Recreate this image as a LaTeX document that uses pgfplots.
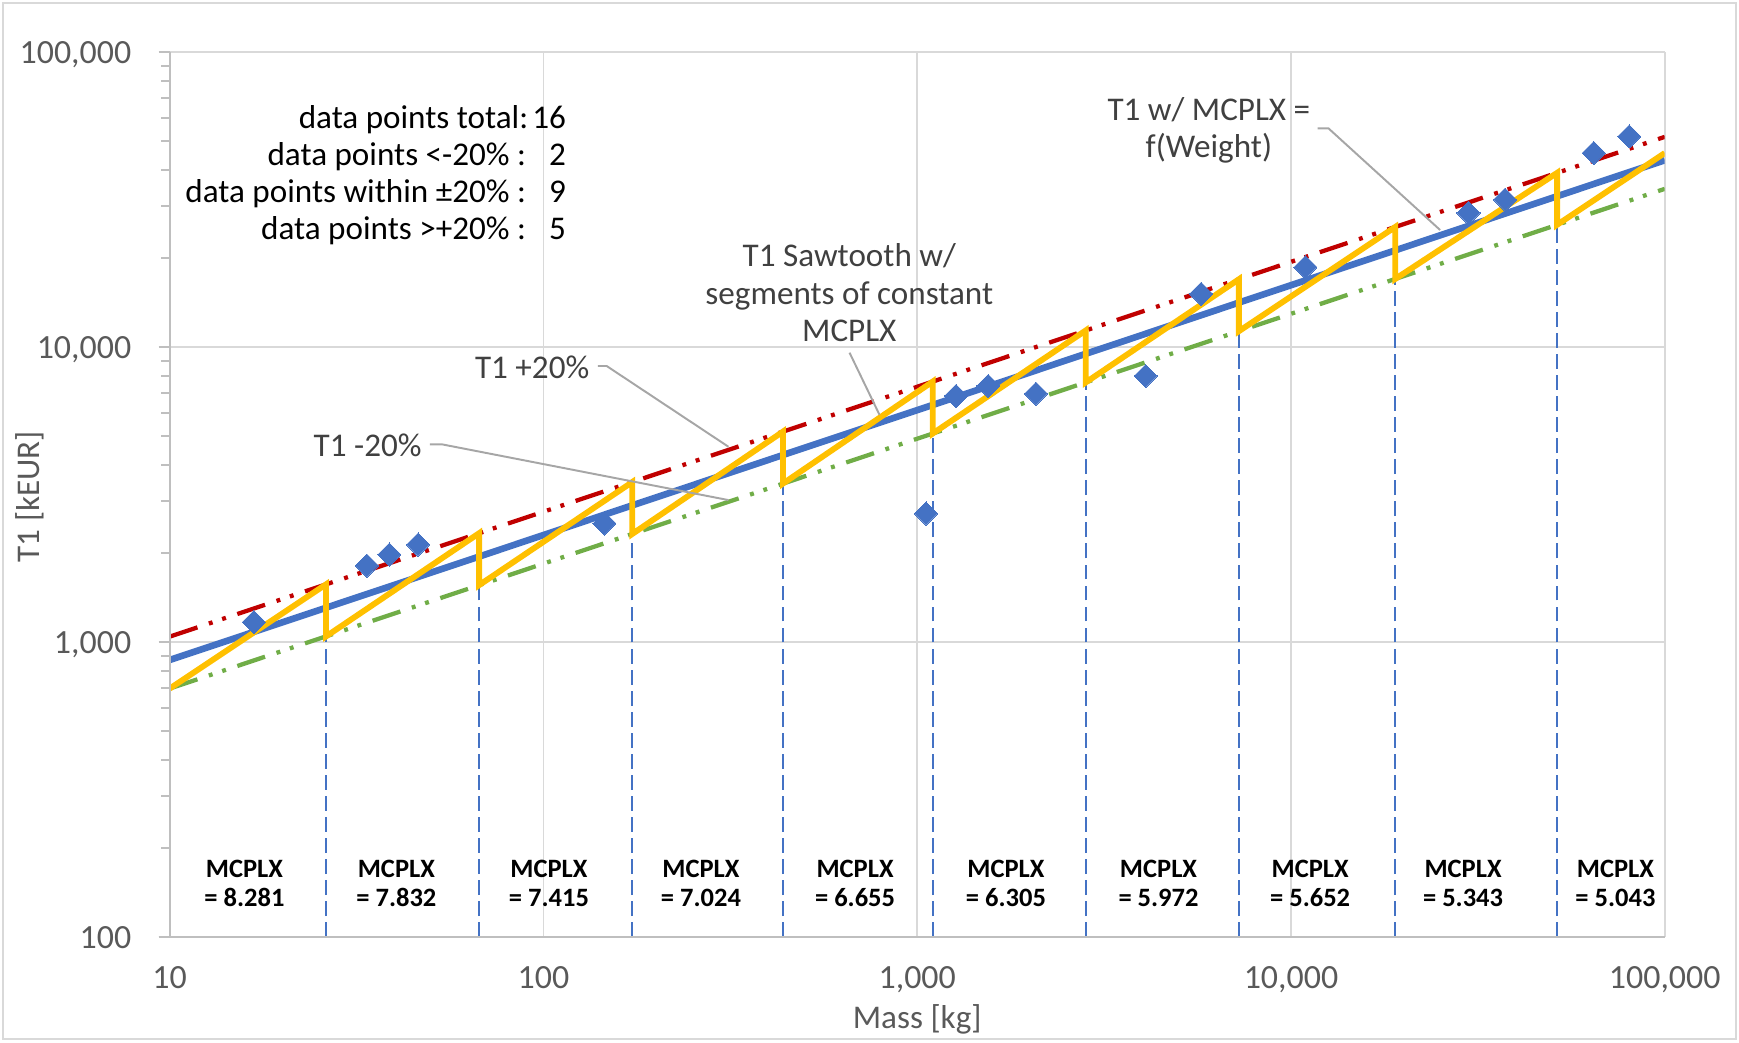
\documentclass[border=0pt]{standalone}
\usepackage{pgfplots}
\pgfplotsset{compat=1.18}
\usepackage{fontspec}
\setmainfont{Carlito}
\definecolor{cblue}{HTML}{4472C4}
\definecolor{cred}{HTML}{C00000}
\definecolor{cgreen}{HTML}{70AD47}
\definecolor{cyellow}{HTML}{FFC000}
\definecolor{gridgray}{HTML}{D9D9D9}
\definecolor{axisgray}{HTML}{BFBFBF}
\definecolor{leadgray}{HTML}{A6A6A6}
\definecolor{txtgray}{HTML}{595959}
\definecolor{anngray}{HTML}{404040}
\newcommand\fs{\fontsize{8.5}{10}\selectfont}
\newcommand\ft{\fontsize{8.7}{10}\selectfont}
\newcommand\fb{\fontsize{6.8}{7.5}\selectfont\bfseries}
\begin{document}
\begin{tikzpicture}
\path[use as bounding box] (-1.53,-0.95) rectangle (14.15,8.45);
\begin{axis}[
  at={(0,0)}, anchor=south west,
  scale only axis, width=13.48cm, height=7.98cm,
  xmode=log, ymode=log,
  xmin=10, xmax=100000, ymin=100, ymax=100000,
  axis line style={draw=none},
  grid=major, major grid style={draw=gridgray, line width=0.4pt},
  xtick={10,100,1000,10000,100000},
  xticklabels={10,100,{1,000},{10,000},{100,000}},
  ytick={100,1000,10000,100000},
  yticklabels={100,{1,000},{10,000},{100,000}},
  xminorticks=false,
  minor ytick={200,300,400,500,600,700,800,900,2000,3000,4000,5000,6000,7000,8000,9000,20000,30000,40000,50000,60000,70000,80000,90000},
  tick align=outside,
  ytick pos=left, xtick pos=bottom,
  major tick length=0.1cm, minor tick length=0.075cm,
  every tick/.style={draw=axisgray, line width=0.5pt},
  xtick style={draw=none},
  xticklabel shift=0.157cm,
  xticklabel style={font=\ft, text=txtgray, anchor=north, inner sep=0pt, text depth=0pt},
  yticklabel style={font=\ft, text=txtgray, anchor=east, xshift=-0.24cm, inner sep=0pt, text depth=0pt},
]
% vertical dashed segment boundaries
\pgfplotsset{vdash/.style={draw=cblue, line width=0.6pt, dash pattern=on 3.8pt off 1.6pt}}
\addplot[vdash] coordinates {(26.2,100) (26.2,1046)};
\addplot[vdash] coordinates {(67.3,100) (67.3,1561)};
\addplot[vdash] coordinates {(172.8,100) (172.8,2326)};
\addplot[vdash] coordinates {(437.5,100) (437.5,3449)};
\addplot[vdash] coordinates {(1100,100) (1100,5095)};
\addplot[vdash] coordinates {(2825,100) (2825,7596)};
\addplot[vdash] coordinates {(7255,100) (7255,11324)};
\addplot[vdash] coordinates {(19010,100) (19010,17032)};
\addplot[vdash] coordinates {(51530,100) (51530,25984)};
% data points
\addplot[only marks, mark=square*, mark size=2.1pt, mark options={rotate=45, fill=cblue, draw=cblue, line width=0pt}] coordinates {
 (16.8,1169) (33.7,1817) (38.7,1982) (46.2,2142) (145.6,2525) (1056,2730)
 (1270,6833) (1549,7386) (2078,6953) (4085,7985) (5750,15150) (10930,18660)
 (29850,28500) (37400,31620) (64570,45500) (80400,51800)};
% +20% and -20%
\addplot[draw=cred, line width=1.1pt, dash pattern=on 7.5pt off 3.1pt on 1pt off 2.6pt on 1pt off 3.1pt] coordinates {(10,1044) (100000,51600)};
\addplot[draw=cgreen, line width=1.1pt, dash pattern=on 7.5pt off 3.1pt on 1pt off 2.6pt on 1pt off 3.1pt] coordinates {(10,696) (100000,34400)};
% fit
\addplot[draw=cblue, line width=1.7pt] coordinates {(10,870) (100000,43000)};
% sawtooth
\addplot[draw=cyellow, line width=1.5pt, line join=miter] coordinates {
 (10,696) (26.2,1570) (26.2,1046) (67.3,2341) (67.3,1561) (172.8,3488) (172.8,2326)
 (437.5,5173) (437.5,3449) (1100,7643) (1100,5095) (2825,11394) (2825,7596)
 (7255,16986) (7255,11324) (19010,25548) (19010,17032) (51530,38976) (51530,25984)
 (100000,45500)};
\end{axis}
% axis lines left and bottom
\draw[axisgray, line width=0.5pt] (-0.1,0) -- (13.48,0);
\draw[axisgray, line width=0.5pt] (0,0) -- (0,7.98);
% outer frame
\draw[gridgray, line width=0.6pt] (-1.50,-0.92) rectangle (14.12,8.42);
% axis titles
\node[font=\fs, text=txtgray, anchor=center] at (6.74,-0.74) {Mass [kg]};
\node[font=\fs, text=txtgray, anchor=center, rotate=90] at (-1.264,3.971) {T1 [kEUR]};
% stats
\node[font=\fs, text=black, anchor=base east, inner sep=0pt] at (3.24,7.293) {data points total:};
\node[font=\fs, text=black, anchor=base east, inner sep=0pt] at (3.22,6.959) {data points <-20\% :};
\node[font=\fs, text=black, anchor=base east, inner sep=0pt] at (3.22,6.625) {data points within ±20\% :};
\node[font=\fs, text=black, anchor=base east, inner sep=0pt] at (3.22,6.291) {data points >+20\% :};
\node[font=\fs, text=black, anchor=base east, inner sep=0pt] at (3.58,7.293) {16};
\node[font=\fs, text=black, anchor=base east, inner sep=0pt] at (3.58,6.959) {2};
\node[font=\fs, text=black, anchor=base east, inner sep=0pt] at (3.58,6.625) {9};
\node[font=\fs, text=black, anchor=base east, inner sep=0pt] at (3.58,6.291) {5};
% annotations
\draw[leadgray, line width=0.5pt] (3.86,5.15) -- (3.94,5.15) -- (5.038,4.422);
\draw[leadgray, line width=0.5pt] (2.347,4.444) -- (2.453,4.444) -- (5.038,3.941);
\draw[leadgray, line width=0.5pt] (6.13,5.27) -- (6.40,4.71);
\draw[leadgray, line width=0.5pt] (10.35,7.293) -- (10.448,7.293) -- (11.455,6.376);
\node[font=\fs, text=anngray, anchor=base, inner sep=0pt] at (3.268,5.039) {T1 +20\%};
\node[font=\fs, text=anngray, anchor=base, inner sep=0pt] at (1.785,4.338) {T1 -20\%};
\node[font=\fs, text=anngray, anchor=base, inner sep=0pt] at (6.128,6.046) {T1 Sawtooth w/};
\node[font=\fs, text=anngray, anchor=base, inner sep=0pt] at (6.128,5.708) {segments of constant};
\node[font=\fs, text=anngray, anchor=base, inner sep=0pt] at (6.128,5.37) {MCPLX};
\node[font=\fs, text=anngray, anchor=base, inner sep=0pt] at (9.37,7.368) {T1 w/ MCPLX =};
\node[font=\fs, text=anngray, anchor=base, inner sep=0pt] at (9.37,7.031) {f(Weight)};
% MCPLX labels
\foreach \x/\v in {0.674/8.281, 2.044/7.832, 3.42/7.415, 4.79/7.024, 6.18/6.655, 7.54/6.305, 8.916/5.972, 10.283/5.652, 11.662/5.343, 13.036/5.043} {
  \node[font=\fb, text=black, anchor=base, inner sep=0pt] at (\x,0.54) {MCPLX};
  \node[font=\fb, text=black, anchor=base, inner sep=0pt] at (\x,0.275) {= \v};
}
\end{tikzpicture}
\end{document}
